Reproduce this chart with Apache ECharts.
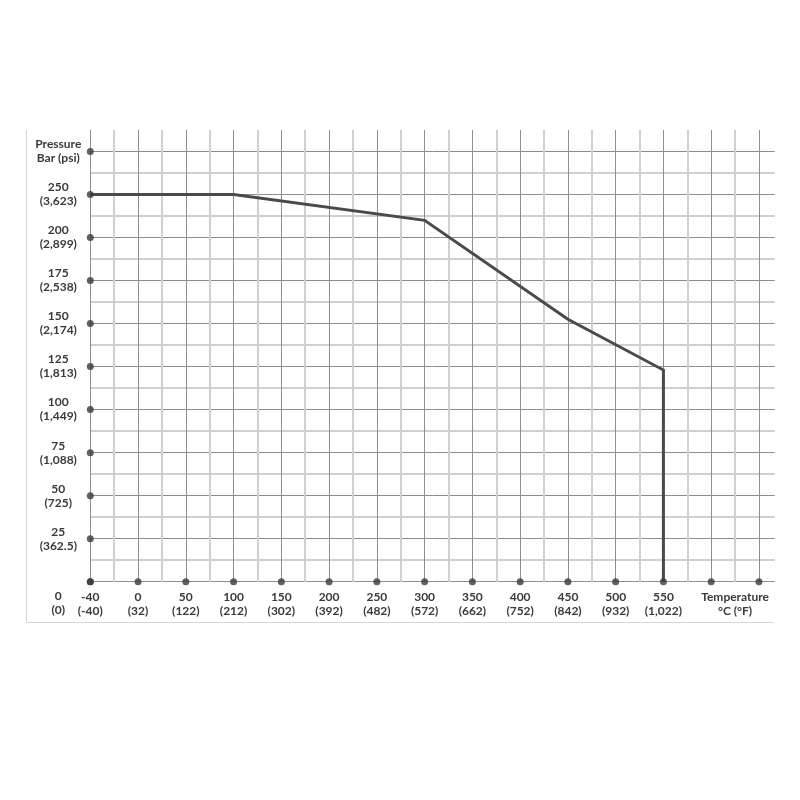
<!DOCTYPE html>
<html><head><meta charset="utf-8">
<script src="https://cdn.jsdelivr.net/npm/echarts@6/dist/echarts.min.js"></script>
<style>html,body{margin:0;padding:0;background:#fff}#c{width:800px;height:800px}</style>
</head><body><div id="c"></div>
<script>
// Temperature axis (category positions) and their labels
const tempCategories = [-40, 0, 50, 100, 150, 200, 250, 300, 350, 400, 450, 500, 550, null, null];
const tempLabels = ['-40\n(-40)', '0\n(32)', '50\n(122)', '100\n(212)', '150\n(302)', '200\n(392)', '250\n(482)', '300\n(572)', '350\n(662)', '400\n(752)', '450\n(842)', '500\n(932)', '550\n(1,022)', '', ''];
const tempAxisName = 'Temperature\n°C (°F)';
// Pressure axis: one label per 25-unit step
const pressureStep = 25;
const pressureLabels = ['0\n(0)', '25\n(362.5)', '50\n(725)', '75\n(1,088)', '100\n(1,449)', '125\n(1,813)', '150\n(2,174)', '175\n(2,538)', '200\n(2,899)', '250\n(3,623)', 'Pressure\nBar (psi)'];
// Pressure-temperature curve (pressure in axis units as drawn)
const curveTemps = [-40, 100, 300, 450, 550, 550];
const curvePressures = [225, 225, 210, 152.5, 123, 0];

const MAJOR = '#8e8e8e', MINOR = '#d0d0d0', NONE = 'rgba(0,0,0,0)';
const xMax = 14.33, yMax = 262.5;
const txt = { fontFamily: 'Lato', fontWeight: 'bold', fontSize: 12, color: '#3a3a3a', lineHeight: 14 };

const nX = tempLabels.length;
const nY = pressureLabels.length;
const xMajorColors = Array(nX).fill(MAJOR).concat([NONE]);
const xMinorColors = []; for (let i = 0; i < 2 * nX; i++) xMinorColors.push(i % 2 === 1 && i < 2 * nX - 2 ? MINOR : NONE);
const yMajorColors = Array(nY).fill(MAJOR).concat([NONE]);
const yMinorColors = []; for (let i = 0; i < 2 * nY + 1; i++) yMinorColors.push(i % 2 === 1 && i < 2 * nY - 1 ? MINOR : NONE);

const curveData = curveTemps.map((t, i) => [tempCategories.indexOf(t), curvePressures[i]]);
const dotData = tempLabels.map((_, i) => [i, 0]).concat(pressureLabels.map((_, i) => [0, i * pressureStep]));

const chart = echarts.init(document.getElementById('c'), null, { renderer: 'canvas' });
chart.setOption({
  animation: false,
  backgroundColor: '#fff',
  grid: [
    { left: 90.3, top: 130, right: 25.3, bottom: 218.3 },
    { left: 26, top: 130, right: 26, bottom: 177.5 }
  ],
  xAxis: [
    { type: 'value', gridIndex: 0, min: 0, max: xMax, interval: 1, position: 'bottom',
      axisLine: { show: false }, axisTick: { show: false },
      splitLine: { show: true, showMaxLine: false, lineStyle: { color: xMajorColors, width: 1 } },
      axisLabel: Object.assign({ margin: 8, showMaxLabel: true, showMinLabel: true,
        formatter: v => (Number.isInteger(v) && v < nX) ? tempLabels[v] : '' }, txt) },
    { type: 'value', gridIndex: 0, min: 0, max: xMax, interval: 0.5, position: 'bottom',
      axisLine: { show: false }, axisTick: { show: false },
      splitLine: { show: true, showMaxLine: false, lineStyle: { color: xMinorColors, width: 2 } },
      axisLabel: Object.assign({ margin: 8, showMaxLabel: true, showMinLabel: true,
        formatter: v => (Math.abs(v - (nX - 1.5)) < 1e-6) ? tempAxisName : '' }, txt) },
    { type: 'value', gridIndex: 1, min: 0, max: 1, position: 'bottom',
      axisLine: { show: true, onZero: false, lineStyle: { color: '#d6d6d6', width: 1 } },
      axisTick: { show: false }, axisLabel: { show: false }, splitLine: { show: false } }
  ],
  yAxis: [
    { type: 'value', gridIndex: 0, min: 0, max: yMax, interval: pressureStep, position: 'left',
      axisLine: { show: false }, axisTick: { show: false },
      splitLine: { show: true, showMaxLine: false, lineStyle: { color: yMajorColors, width: 1 } },
      axisLabel: Object.assign({ margin: 32, align: 'center', verticalAlign: 'middle',
        showMinLabel: true, showMaxLabel: true,
        formatter: v => { const i = v / pressureStep; if (!Number.isInteger(i) || i < 1 || i >= nY) return ''; return pressureLabels[i]; } }, txt) },
    { type: 'value', gridIndex: 0, min: 0, max: yMax, interval: pressureStep / 2, position: 'left',
      axisLine: { show: false }, axisTick: { show: false },
      axisLabel: Object.assign({ margin: 32, align: 'center', verticalAlign: 'top', padding: [7, 0, 0, 0],
        showMinLabel: true, showMaxLabel: false,
        formatter: v => v === 0 ? pressureLabels[0] : '' }, txt),
      splitLine: { show: true, showMaxLine: false, lineStyle: { color: yMinorColors, width: 2 } } },
    { type: 'value', gridIndex: 1, min: 0, max: 1, position: 'left',
      axisLine: { show: true, onZero: false, lineStyle: { color: '#d6d6d6', width: 1 } },
      axisTick: { show: false }, axisLabel: { show: false }, splitLine: { show: false } }
  ],
  series: [
    { type: 'line', xAxisIndex: 0, yAxisIndex: 0, data: curveData, symbol: 'none', z: 3,
      lineStyle: { color: '#4a4a4a', width: 3, join: 'miter' } },
    { type: 'scatter', xAxisIndex: 0, yAxisIndex: 0, data: dotData, symbol: 'circle', symbolSize: 7,
      itemStyle: { color: '#3a3a3a' }, z: 5, clip: false, silent: true }
  ]
});
</script>
</body></html>
